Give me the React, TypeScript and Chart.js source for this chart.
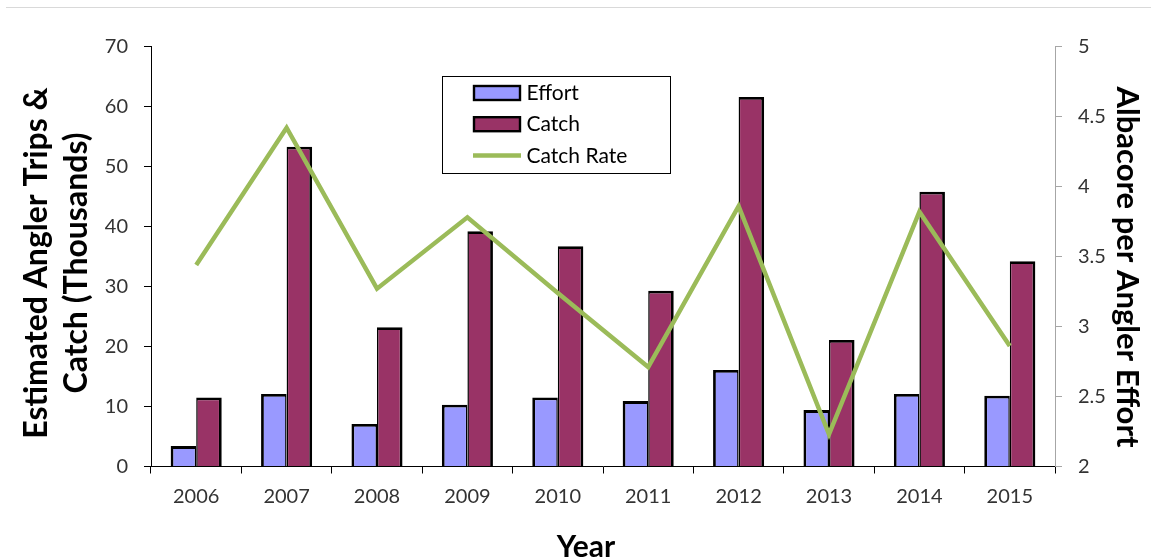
import React, { useEffect, useRef } from "react";
import { Chart, registerables } from "chart.js";

Chart.register(...registerables);

// ---- data -----------------------------------------------------------------
const years = ["2006", "2007", "2008", "2009", "2010", "2011", "2012", "2013", "2014", "2015"];
// estimated angler trips (thousands)
const effort = [3.4, 12.1, 7.1, 10.3, 11.5, 10.9, 16.1, 9.4, 12.1, 11.8];
// estimated albacore catch (thousands)
const catchTotals = [11.5, 53.3, 23.2, 39.2, 36.7, 29.3, 61.6, 21.1, 45.8, 34.2];
// albacore per angler trip
const catchRate = [3.44, 4.42, 3.27, 3.78, 3.24, 2.71, 3.86, 2.23, 3.82, 2.86];

const seriesNames = ["Effort", "Catch", "Catch Rate"];
const leftTitle = ["Estimated Angler Trips &", "Catch (Thousands)"];
const rightTitle = "Albacore per Angler Effort";
const xTitle = "Year";

const EFFORT_COLOR = "#9999FF";
const CATCH_COLOR = "#993366";
const RATE_COLOR = "#9BBB59";
const FONT = "Lato, 'Open Sans', sans-serif";

// Axis titles and the boxed legend, painted after the datasets.
const decorations = {
  id: "decorations",
  afterDraw(chart: any) {
    const { ctx } = chart;
    ctx.save();
    ctx.fillStyle = "#000";
    ctx.textAlign = "center";
    ctx.textBaseline = "alphabetic";
    ctx.font = `bold 32px ${FONT}`;

    // left title, two rotated lines
    const leftBaselines = [47, 87];
    leftTitle.forEach((line, i) => {
      ctx.save();
      ctx.translate(leftBaselines[i], 263);
      ctx.rotate(-Math.PI / 2);
      ctx.fillText(line, 0, 0);
      ctx.restore();
    });

    // right title
    ctx.font = `bold 31px ${FONT}`;
    ctx.save();
    ctx.translate(1117, 267);
    ctx.rotate(Math.PI / 2);
    ctx.fillText(rightTitle, 0, 0);
    ctx.restore();

    // bottom title
    ctx.font = `bold 30px ${FONT}`;
    ctx.fillText(xTitle, 586, 557);

    // legend
    const box = { x: 442.5, y: 76.5, w: 228, h: 97 };
    ctx.lineWidth = 1;
    ctx.strokeStyle = "#000";
    ctx.fillStyle = "#fff";
    ctx.fillRect(box.x, box.y, box.w, box.h);
    ctx.strokeRect(box.x, box.y, box.w, box.h);

    const rows = [93, 124.2, 155.5];
    ctx.font = `21px ${FONT}`;
    ctx.textAlign = "left";
    ctx.textBaseline = "middle";
    chart.data.datasets
      .slice()
      .sort((a: any, b: any) => seriesNames.indexOf(a.label) - seriesNames.indexOf(b.label))
      .forEach((ds: any, i: number) => {
        const cy = rows[i];
        if (ds.type === "line") {
          ctx.strokeStyle = ds.borderColor;
          ctx.lineWidth = 4.5;
          ctx.beginPath();
          ctx.moveTo(473, cy);
          ctx.lineTo(521, cy);
          ctx.stroke();
        } else {
          ctx.fillStyle = ds.backgroundColor;
          ctx.fillRect(474, cy - 7, 46, 14);
          ctx.strokeStyle = "#000";
          ctx.lineWidth = 2.4;
          ctx.strokeRect(474, cy - 7, 46, 14);
        }
        ctx.fillStyle = "#000";
        ctx.fillText(ds.label, 526.5, cy + 0.5);
      });
    ctx.restore();
  },
};

export default function App() {
  const canvasRef = useRef<HTMLCanvasElement | null>(null);

  useEffect(() => {
    const canvas = canvasRef.current;
    if (!canvas) return;

    const tickFont = { family: FONT, size: 20 };

    const chart = new Chart(canvas, {
      type: "bar",
      data: {
        labels: years,
        datasets: [
          {
            type: "line",
            label: seriesNames[2],
            data: catchRate,
            yAxisID: "y1",
            borderColor: RATE_COLOR,
            backgroundColor: RATE_COLOR,
            borderWidth: 4.5,
            borderJoinStyle: "miter",
            pointRadius: 0,
            tension: 0,
            order: 0,
          } as any,
          {
            type: "bar",
            label: seriesNames[0],
            data: effort,
            yAxisID: "y",
            backgroundColor: EFFORT_COLOR,
            borderColor: "#000",
            borderWidth: { left: 2.8, top: 2.8, right: 1.5, bottom: 0 },
            barPercentage: 1,
            categoryPercentage: 0.565,
            order: 1,
          },
          {
            type: "bar",
            label: seriesNames[1],
            data: catchTotals,
            yAxisID: "y",
            backgroundColor: CATCH_COLOR,
            borderColor: "#000",
            borderWidth: { left: 1.5, top: 2.8, right: 2.8, bottom: 0 },
            barPercentage: 1,
            categoryPercentage: 0.565,
            order: 1,
          },
        ],
      },
      options: {
        responsive: false,
        animation: false,
        layout: { padding: { top: 46.5, left: 0, right: 0, bottom: 0 } },
        plugins: {
          legend: { display: false },
          tooltip: { enabled: false },
          title: { display: false },
        },
        scales: {
          x: {
            type: "category",
            offset: true,
            grid: {
              display: true,
              drawOnChartArea: false,
              drawTicks: true,
              tickLength: 7,
              color: "#000",
              offset: true,
            },
            border: { display: true, color: "#000", width: 1 },
            ticks: {
              color: "#333",
              font: tickFont,
              padding: 11,
              maxRotation: 0,
              autoSkip: false,
            },
            afterFit: (s: any) => {
              s.height = 93.5;
              s.paddingLeft = 0;
              s.paddingRight = 0;
            },
          },
          y: {
            position: "left",
            min: 0,
            max: 70,
            grid: { display: true, drawOnChartArea: false, drawTicks: true, tickLength: 7, color: "#000" },
            border: { display: true, color: "#000", width: 1 },
            ticks: { stepSize: 10, color: "#333", font: tickFont, padding: 16 },
            afterFit: (s: any) => {
              s.width = 151;
              s.paddingTop = 0;
              s.paddingBottom = 0;
            },
          },
          y1: {
            position: "right",
            min: 2,
            max: 5,
            grid: { display: true, drawOnChartArea: false, drawTicks: true, tickLength: 7, color: "#a6a6a6" },
            border: { display: true, color: "#a6a6a6", width: 1 },
            ticks: {
              stepSize: 0.5,
              color: "#333",
              font: tickFont,
              padding: 16,
              callback: (v: any) => String(Number(v)),
            },
            afterFit: (s: any) => {
              s.width = 96;
              s.paddingTop = 0;
              s.paddingBottom = 0;
            },
          },
        },
      },
      plugins: [decorations],
    });

    return () => chart.destroy();
  }, []);

  return (
    <div
      style={{
        position: "fixed",
        left: 0,
        top: 0,
        width: 1151,
        height: 560,
        background: "#fff",
        overflow: "hidden",
      }}
    >
      <div
        style={{
          position: "absolute",
          left: 6,
          right: 0,
          top: 7,
          height: 1,
          background: "#d9d9d9",
        }}
      />
      <canvas
        ref={canvasRef}
        width={1151}
        height={560}
        style={{ position: "absolute", left: 0, top: 0, width: 1151, height: 560 }}
      />
    </div>
  );
}
